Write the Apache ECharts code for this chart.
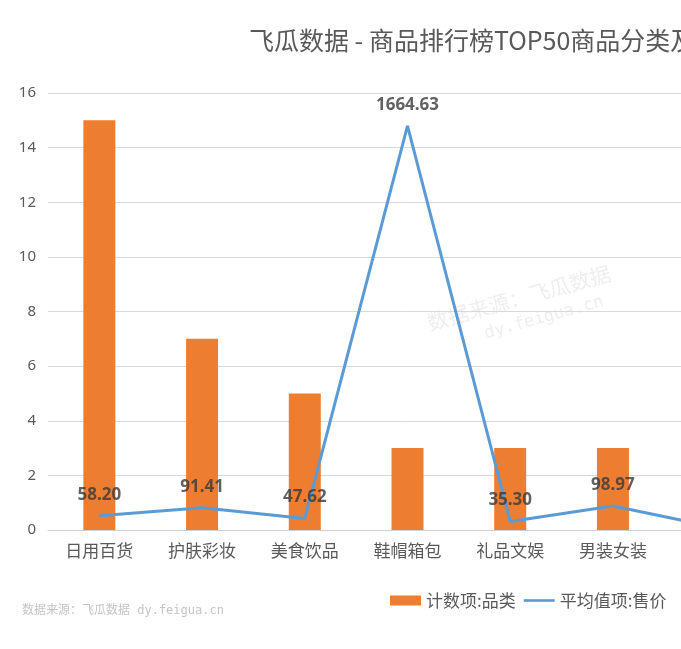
<!DOCTYPE html>
<html>
<head>
<meta charset="utf-8">
<script src="https://cdn.jsdelivr.net/npm/echarts@6/dist/echarts.min.js"></script>
<style>
html,body{margin:0;padding:0;overflow:hidden;background:#fff;width:681px;height:649px;}
#c{width:840px;height:649px;}
</style>
</head>
<body>
<div id="c"></div>
<script>
const categories = ['日用百货', '护肤彩妆', '美食饮品', '鞋帽箱包', '礼品文娱', '男装女装', '汽车用品'];
const countValues = [15, 7, 5, 3, 3, 3, 2];
const avgPrice = [58.20, 91.41, 47.62, 1664.63, 35.30, 98.97, 11.5];
const yTicks = { min: 0, max: 16, interval: 2 };
const y2Range = { min: 0, max: 1800 };

const FONT = "'Noto Sans', 'Noto Sans CJK SC', sans-serif";
const chart = echarts.init(document.getElementById('c'));
chart.setOption({
  animation: false,
  textStyle: { fontFamily: FONT },
  title: {
    text: '飞瓜数据 - 商品排行榜TOP50商品分类及售价',
    left: 249, top: 28, padding: 0,
    textStyle: { fontSize: 25, fontWeight: 'normal', color: '#595959', fontFamily: "'Noto Sans CJK SC', sans-serif" }
  },
  graphic: [
    {
      type: 'text', left: 22, top: 605,
      style: { text: '数据来源：飞瓜数据 dy.feigua.cn', fill: '#c4c4c4', fontSize: 12, fontFamily: "'DejaVu Sans Mono', 'Noto Sans CJK SC', monospace" }
    },
    {
      type: 'group', x: 432, y: 338, rotation: 0.27,
      children: [
        { type: 'text', x: 0, y: -26, style: { text: '数据来源：飞瓜数据', fill: 'rgba(200,200,200,0.3)', fontSize: 21, fontFamily: "'Noto Sans CJK SC', sans-serif" } },
        { type: 'text', x: 52, y: 2, style: { text: 'dy.feigua.cn', fill: 'rgba(200,200,200,0.3)', fontSize: 17, fontFamily: "'DejaVu Sans Mono', monospace" } }
      ]
    }
  ],
  legend: {
    left: 390, top: 592, padding: 0,
    itemWidth: 31, itemHeight: 10, itemGap: 8,
    textStyle: { fontSize: 17, color: '#595959', fontFamily: "'Noto Sans CJK SC', sans-serif" },
    data: [
      { name: '计数项:品类', icon: 'rect' },
      { name: '平均值项:售价', icon: 'path://M0,0M0,10M0,3.6H33V6.4H0Z' }
    ]
  },
  grid: { left: 48, top: 93, height: 437, width: 719, containLabel: false },
  xAxis: {
    type: 'category', data: categories,
    axisLine: { lineStyle: { color: '#d0d0d0', width: 1 } },
    axisTick: { show: false },
    axisLabel: { fontSize: 17, color: '#595959', margin: 12, fontFamily: "'Noto Sans CJK SC', sans-serif" }
  },
  yAxis: [
    {
      type: 'value', min: yTicks.min, max: yTicks.max, interval: yTicks.interval,
      axisLine: { show: false }, axisTick: { show: false },
      axisLabel: { fontSize: 15, color: '#595959', margin: 12 },
      splitLine: { lineStyle: { color: '#d9d9d9', width: 1 } }
    },
    {
      type: 'value', min: y2Range.min, max: y2Range.max, show: false,
      splitLine: { show: false }
    }
  ],
  series: [
    {
      name: '计数项:品类', type: 'bar', data: countValues, barWidth: 32,
      itemStyle: { color: '#ed7d31' }
    },
    {
      name: '平均值项:售价', type: 'line', yAxisIndex: 1, data: avgPrice,
      symbol: 'none', showSymbol: false,
      lineStyle: { color: '#5b9bd5', width: 3 },
      itemStyle: { color: '#5b9bd5' }
    },
    {
      name: 'labels', type: 'scatter', yAxisIndex: 1, data: avgPrice,
      symbolSize: 1, itemStyle: { color: 'rgba(0,0,0,0)' },
      silent: true, z: 5,
      label: {
        show: true, position: 'top', distance: 12,
        formatter: p => p.value.toFixed(2),
        fontSize: 17, fontWeight: 'bold', color: '#3a3a3a'
      }
    }
  ]
});
</script>
</body>
</html>
